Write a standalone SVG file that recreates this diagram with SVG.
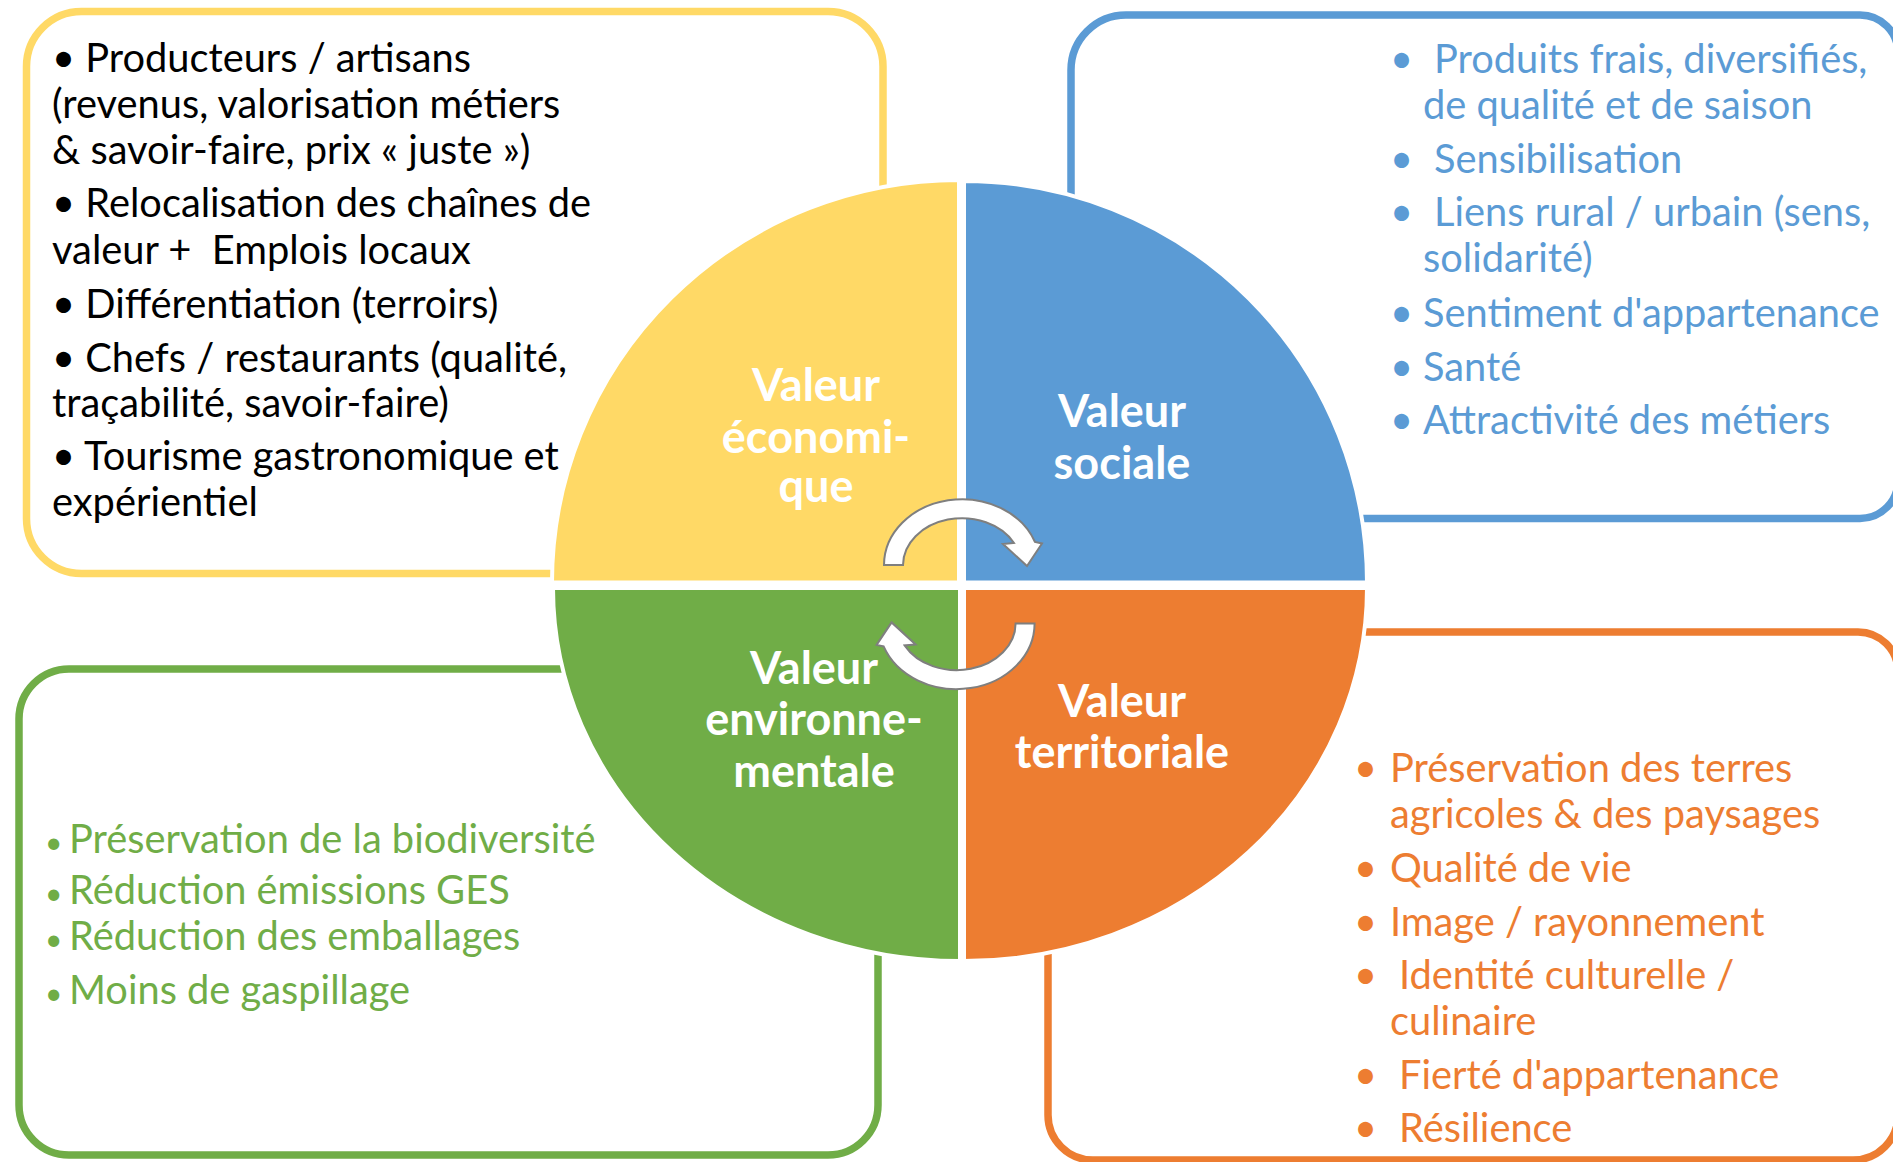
<svg xmlns="http://www.w3.org/2000/svg" width="1893" height="1162" viewBox="0 0 1893 1162">
<style>
.box{fill:#fff;stroke-width:7.5}
.quad{stroke:#fff;stroke-width:4}
.body{font-family:Lato,"Liberation Sans",sans-serif;font-size:39.8px}
.lbl{font-family:Lato,"Liberation Sans",sans-serif;font-size:45px;font-weight:700;fill:#fff;text-anchor:middle}
.arrow{fill:#fff;stroke:#7F7F7F;stroke-width:2;stroke-linejoin:miter}
</style>
<rect width="1893" height="1162" fill="#fff"/>
<!-- boxes -->
<g id="box-economique">
<rect class="box" x="26.5" y="11.5" width="856.5" height="562" rx="55" stroke="#FFD966"/>
<text class="body" fill="#000">
<tspan x="52" y="72">• Producteurs / artisans</tspan>
<tspan x="52" y="118">(revenus, valorisation métiers</tspan>
<tspan x="52" y="164">&amp; savoir-faire, prix « juste »)</tspan>
<tspan x="52" y="217">• Relocalisation des chaînes de</tspan>
<tspan x="52" y="264">valeur + &#160;Emplois locaux</tspan>
<tspan x="52" y="318">• Différentiation (terroirs)</tspan>
<tspan x="52" y="372">• Chefs / restaurants (qualité,</tspan>
<tspan x="52" y="417">traçabilité, savoir-faire)</tspan>
<tspan x="52" y="470">• Tourisme gastronomique et</tspan>
<tspan x="52" y="516">expérientiel</tspan>
</text>
</g>
<g id="box-sociale">
<path class="box" stroke="#5B9BD5" d="M1126,15 H1860 A38,38 0 0 1 1898,53 V480 A38,38 0 0 1 1860,518.5 H1126 A55,55 0 0 1 1071,463.5 V70 A55,55 0 0 1 1126,15 Z"/>
<g class="body" fill="#5B9BD5">
<text x="1390" y="73">•</text><text x="1434" y="73">Produits frais, diversifiés,</text>
<text x="1423" y="119">de qualité et de saison</text>
<text x="1390" y="173">•</text><text x="1434" y="173">Sensibilisation</text>
<text x="1390" y="226">•</text><text x="1434" y="226">Liens rural / urbain (sens,</text>
<text x="1423" y="272">solidarité)</text>
<text x="1390" y="327">•</text><text x="1423" y="327">Sentiment d'appartenance</text>
<text x="1390" y="381">•</text><text x="1423" y="381">Santé</text>
<text x="1390" y="434">•</text><text x="1423" y="434">Attractivité des métiers</text>
</g>
</g>
<g id="box-environnementale">
<rect class="box" x="19" y="669" width="859" height="486" rx="50" stroke="#70AD47"/>
<g class="body" fill="#70AD47" font-size="39">
<text x="45" y="853" font-size="30">•</text><text x="69" y="853">Préservation de la biodiversité</text>
<text x="45" y="904" font-size="30">•</text><text x="69" y="904">Réduction émissions GES</text>
<text x="45" y="950" font-size="30">•</text><text x="69" y="950">Réduction des emballages</text>
<text x="45" y="1004" font-size="30">•</text><text x="69" y="1004">Moins de gaspillage</text>
</g>
</g>
<g id="box-territoriale">
<path class="box" stroke="#ED7D31" d="M1093,632 H1858 A40,40 0 0 1 1898,672 V1115 A45,45 0 0 1 1853,1160 H1093 A45,45 0 0 1 1048,1115 V677 A45,45 0 0 1 1093,632 Z"/>
<g class="body" fill="#ED7D31" font-size="39">
<text x="1354" y="782">•</text><text x="1390" y="782">Préservation des terres</text>
<text x="1390" y="828">agricoles &amp; des paysages</text>
<text x="1354" y="882">•</text><text x="1390" y="882">Qualité de vie</text>
<text x="1354" y="936">•</text><text x="1390" y="936">Image / rayonnement</text>
<text x="1354" y="989">•</text><text x="1399" y="989">Identité culturelle /</text>
<text x="1390" y="1035">culinaire</text>
<text x="1354" y="1089">•</text><text x="1399" y="1089">Fierté d'appartenance</text>
<text x="1354" y="1142">•</text><text x="1399" y="1142">Résilience</text>
</g>
</g>
<!-- quadrants -->
<g id="quad-economique">
<path class="quad" fill="#FFD966" d="M959,582.5 L552,582.5 A407,402.5 0 0 1 959,180 Z"/>
<text class="lbl"><tspan x="816" y="401">Valeur</tspan><tspan x="816" y="453">économi-</tspan><tspan x="816" y="502">que</tspan></text>
</g>
<g id="quad-sociale">
<path class="quad" fill="#5B9BD5" d="M964,582.5 L964,181 A403,401.5 0 0 1 1367,582.5 Z"/>
<text class="lbl"><tspan x="1122" y="427">Valeur</tspan><tspan x="1122" y="479">sociale</tspan></text>
</g>
<g id="quad-environnementale">
<path class="quad" fill="#70AD47" d="M960,588 L960,961 A407,373 0 0 1 553,588 Z"/>
<text class="lbl"><tspan x="814" y="684">Valeur</tspan><tspan x="814" y="735">environne-</tspan><tspan x="814" y="787">mentale</tspan></text>
</g>
<g id="quad-territoriale">
<path class="quad" fill="#ED7D31" d="M964,588 L1367,588 A403,373 0 0 1 964,961 Z"/>
<text class="lbl"><tspan x="1122" y="717">Valeur</tspan><tspan x="1122" y="768">territoriale</tspan></text>
</g>
<!-- connectors -->
<g id="connectors">
<path id="arrow-top" class="arrow" d="M884,565 A78,66 0 0 1 1035,542 L1042,543.5 L1027,566 L1003,544 L1014,543 A59,47 0 0 0 903,565 Z"/>
<path id="arrow-bottom" class="arrow" transform="rotate(180 959.3 594.2)" d="M884,565 A78,66 0 0 1 1035,542 L1042,543.5 L1027,566 L1003,544 L1014,543 A59,47 0 0 0 903,565 Z"/>
</g>
</svg>
